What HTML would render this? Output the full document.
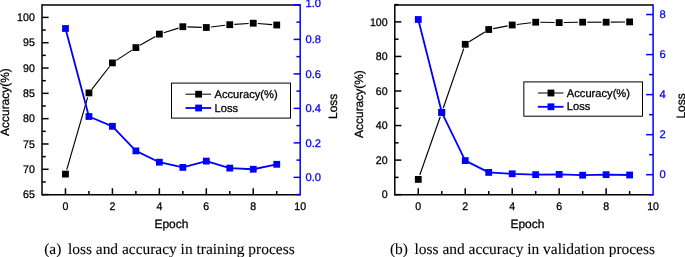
<!DOCTYPE html>
<html><head><meta charset="utf-8"><title>fig</title>
<style>html,body{margin:0;padding:0;background:#fff;}svg{display:block;}text{text-rendering:geometricPrecision;}</style></head>
<body><svg width="685" height="257" viewBox="0 0 685 257">
<defs><filter id="sf" x="-5%" y="-5%" width="110%" height="110%" color-interpolation-filters="sRGB"><feGaussianBlur stdDeviation="0.35"/></filter></defs>
<rect width="685" height="257" fill="#fff"/>
<g filter="url(#sf)">
<line x1="66.75" y1="169.68" x2="87.67" y2="97.32" stroke="#000" stroke-width="1.15" stroke-linecap="butt"/>
<line x1="91.78" y1="89.28" x2="109.58" y2="66.52" stroke="#000" stroke-width="1.15" stroke-linecap="butt"/>
<line x1="116.27" y1="60.39" x2="132.04" y2="50.11" stroke="#000" stroke-width="1.15" stroke-linecap="butt"/>
<line x1="139.88" y1="45.31" x2="155.38" y2="36.39" stroke="#000" stroke-width="1.15" stroke-linecap="butt"/>
<line x1="163.75" y1="32.72" x2="178.45" y2="28.08" stroke="#000" stroke-width="1.15" stroke-linecap="butt"/>
<line x1="187.43" y1="26.86" x2="201.71" y2="27.34" stroke="#000" stroke-width="1.15" stroke-linecap="butt"/>
<line x1="210.88" y1="26.96" x2="225.21" y2="25.24" stroke="#000" stroke-width="1.15" stroke-linecap="butt"/>
<line x1="234.37" y1="24.41" x2="248.66" y2="23.49" stroke="#000" stroke-width="1.15" stroke-linecap="butt"/>
<line x1="257.84" y1="23.55" x2="272.14" y2="24.65" stroke="#000" stroke-width="1.15" stroke-linecap="butt"/>
<polyline fill="none" stroke="#0000ff" stroke-width="1.8" stroke-linejoin="round" points="65.47,28.50 88.95,116.50 112.42,126.30 135.89,150.90 159.36,162.20 182.84,167.40 206.31,161.10 229.78,168.10 253.25,169.25 276.73,164.30"/>
<rect x="62.07" y="170.70" width="6.8" height="6.8" fill="#000"/>
<rect x="85.55" y="89.50" width="6.8" height="6.8" fill="#000"/>
<rect x="109.02" y="59.50" width="6.8" height="6.8" fill="#000"/>
<rect x="132.49" y="44.20" width="6.8" height="6.8" fill="#000"/>
<rect x="155.96" y="30.70" width="6.8" height="6.8" fill="#000"/>
<rect x="179.44" y="23.30" width="6.8" height="6.8" fill="#000"/>
<rect x="202.91" y="24.10" width="6.8" height="6.8" fill="#000"/>
<rect x="226.38" y="21.30" width="6.8" height="6.8" fill="#000"/>
<rect x="249.85" y="19.80" width="6.8" height="6.8" fill="#000"/>
<rect x="273.33" y="21.60" width="6.8" height="6.8" fill="#000"/>
<rect x="62.07" y="25.10" width="6.8" height="6.8" fill="#0000ff"/>
<rect x="85.55" y="113.10" width="6.8" height="6.8" fill="#0000ff"/>
<rect x="109.02" y="122.90" width="6.8" height="6.8" fill="#0000ff"/>
<rect x="132.49" y="147.50" width="6.8" height="6.8" fill="#0000ff"/>
<rect x="155.96" y="158.80" width="6.8" height="6.8" fill="#0000ff"/>
<rect x="179.44" y="164.00" width="6.8" height="6.8" fill="#0000ff"/>
<rect x="202.91" y="157.70" width="6.8" height="6.8" fill="#0000ff"/>
<rect x="226.38" y="164.70" width="6.8" height="6.8" fill="#0000ff"/>
<rect x="249.85" y="165.85" width="6.8" height="6.8" fill="#0000ff"/>
<rect x="273.33" y="160.90" width="6.8" height="6.8" fill="#0000ff"/>
<line x1="42.00" y1="4.15" x2="42.00" y2="195.60" stroke="#000" stroke-width="1.5" stroke-linecap="butt"/>
<line x1="42.00" y1="4.90" x2="300.20" y2="4.90" stroke="#000" stroke-width="1.5" stroke-linecap="butt"/>
<line x1="42.00" y1="194.85" x2="300.20" y2="194.85" stroke="#000" stroke-width="1.5" stroke-linecap="butt"/>
<line x1="42.00" y1="194.60" x2="48.60" y2="194.60" stroke="#000" stroke-width="1.5" stroke-linecap="butt"/>
<line x1="42.00" y1="169.29" x2="48.60" y2="169.29" stroke="#000" stroke-width="1.5" stroke-linecap="butt"/>
<line x1="42.00" y1="143.97" x2="48.60" y2="143.97" stroke="#000" stroke-width="1.5" stroke-linecap="butt"/>
<line x1="42.00" y1="118.66" x2="48.60" y2="118.66" stroke="#000" stroke-width="1.5" stroke-linecap="butt"/>
<line x1="42.00" y1="93.34" x2="48.60" y2="93.34" stroke="#000" stroke-width="1.5" stroke-linecap="butt"/>
<line x1="42.00" y1="68.03" x2="48.60" y2="68.03" stroke="#000" stroke-width="1.5" stroke-linecap="butt"/>
<line x1="42.00" y1="42.71" x2="48.60" y2="42.71" stroke="#000" stroke-width="1.5" stroke-linecap="butt"/>
<line x1="42.00" y1="17.40" x2="48.60" y2="17.40" stroke="#000" stroke-width="1.5" stroke-linecap="butt"/>
<line x1="42.00" y1="181.95" x2="45.80" y2="181.95" stroke="#000" stroke-width="1.5" stroke-linecap="butt"/>
<line x1="42.00" y1="156.63" x2="45.80" y2="156.63" stroke="#000" stroke-width="1.5" stroke-linecap="butt"/>
<line x1="42.00" y1="131.32" x2="45.80" y2="131.32" stroke="#000" stroke-width="1.5" stroke-linecap="butt"/>
<line x1="42.00" y1="106.00" x2="45.80" y2="106.00" stroke="#000" stroke-width="1.5" stroke-linecap="butt"/>
<line x1="42.00" y1="80.69" x2="45.80" y2="80.69" stroke="#000" stroke-width="1.5" stroke-linecap="butt"/>
<line x1="42.00" y1="55.37" x2="45.80" y2="55.37" stroke="#000" stroke-width="1.5" stroke-linecap="butt"/>
<line x1="42.00" y1="30.06" x2="45.80" y2="30.06" stroke="#000" stroke-width="1.5" stroke-linecap="butt"/>
<text x="34.80" y="198.20" font-family="Liberation Sans" font-size="10.6px" text-anchor="end" fill="#000" stroke="#000" stroke-width="0.28" transform="translate(34.80 198.20) scale(1 1.045) translate(-34.80 -198.20)">65</text>
<text x="34.80" y="172.89" font-family="Liberation Sans" font-size="10.6px" text-anchor="end" fill="#000" stroke="#000" stroke-width="0.28" transform="translate(34.80 172.89) scale(1 1.045) translate(-34.80 -172.89)">70</text>
<text x="34.80" y="147.57" font-family="Liberation Sans" font-size="10.6px" text-anchor="end" fill="#000" stroke="#000" stroke-width="0.28" transform="translate(34.80 147.57) scale(1 1.045) translate(-34.80 -147.57)">75</text>
<text x="34.80" y="122.26" font-family="Liberation Sans" font-size="10.6px" text-anchor="end" fill="#000" stroke="#000" stroke-width="0.28" transform="translate(34.80 122.26) scale(1 1.045) translate(-34.80 -122.26)">80</text>
<text x="34.80" y="96.94" font-family="Liberation Sans" font-size="10.6px" text-anchor="end" fill="#000" stroke="#000" stroke-width="0.28" transform="translate(34.80 96.94) scale(1 1.045) translate(-34.80 -96.94)">85</text>
<text x="34.80" y="71.63" font-family="Liberation Sans" font-size="10.6px" text-anchor="end" fill="#000" stroke="#000" stroke-width="0.28" transform="translate(34.80 71.63) scale(1 1.045) translate(-34.80 -71.63)">90</text>
<text x="34.80" y="46.31" font-family="Liberation Sans" font-size="10.6px" text-anchor="end" fill="#000" stroke="#000" stroke-width="0.28" transform="translate(34.80 46.31) scale(1 1.045) translate(-34.80 -46.31)">95</text>
<text x="34.80" y="21.00" font-family="Liberation Sans" font-size="10.6px" text-anchor="end" fill="#000" stroke="#000" stroke-width="0.28" transform="translate(34.80 21.00) scale(1 1.045) translate(-34.80 -21.00)">100</text>
<line x1="65.47" y1="194.85" x2="65.47" y2="188.25" stroke="#000" stroke-width="1.5" stroke-linecap="butt"/>
<text x="65.47" y="210.10" font-family="Liberation Sans" font-size="10.6px" text-anchor="middle" fill="#000" stroke="#000" stroke-width="0.28" transform="translate(65.47 210.10) scale(1 1.045) translate(-65.47 -210.10)">0</text>
<line x1="112.42" y1="194.85" x2="112.42" y2="188.25" stroke="#000" stroke-width="1.5" stroke-linecap="butt"/>
<text x="112.42" y="210.10" font-family="Liberation Sans" font-size="10.6px" text-anchor="middle" fill="#000" stroke="#000" stroke-width="0.28" transform="translate(112.42 210.10) scale(1 1.045) translate(-112.42 -210.10)">2</text>
<line x1="159.36" y1="194.85" x2="159.36" y2="188.25" stroke="#000" stroke-width="1.5" stroke-linecap="butt"/>
<text x="159.36" y="210.10" font-family="Liberation Sans" font-size="10.6px" text-anchor="middle" fill="#000" stroke="#000" stroke-width="0.28" transform="translate(159.36 210.10) scale(1 1.045) translate(-159.36 -210.10)">4</text>
<line x1="206.31" y1="194.85" x2="206.31" y2="188.25" stroke="#000" stroke-width="1.5" stroke-linecap="butt"/>
<text x="206.31" y="210.10" font-family="Liberation Sans" font-size="10.6px" text-anchor="middle" fill="#000" stroke="#000" stroke-width="0.28" transform="translate(206.31 210.10) scale(1 1.045) translate(-206.31 -210.10)">6</text>
<line x1="253.25" y1="194.85" x2="253.25" y2="188.25" stroke="#000" stroke-width="1.5" stroke-linecap="butt"/>
<text x="253.25" y="210.10" font-family="Liberation Sans" font-size="10.6px" text-anchor="middle" fill="#000" stroke="#000" stroke-width="0.28" transform="translate(253.25 210.10) scale(1 1.045) translate(-253.25 -210.10)">8</text>
<text x="300.20" y="210.10" font-family="Liberation Sans" font-size="10.6px" text-anchor="middle" fill="#000" stroke="#000" stroke-width="0.28" transform="translate(300.20 210.10) scale(1 1.045) translate(-300.20 -210.10)">10</text>
<line x1="88.95" y1="194.85" x2="88.95" y2="191.05" stroke="#000" stroke-width="1.5" stroke-linecap="butt"/>
<line x1="135.89" y1="194.85" x2="135.89" y2="191.05" stroke="#000" stroke-width="1.5" stroke-linecap="butt"/>
<line x1="182.84" y1="194.85" x2="182.84" y2="191.05" stroke="#000" stroke-width="1.5" stroke-linecap="butt"/>
<line x1="229.78" y1="194.85" x2="229.78" y2="191.05" stroke="#000" stroke-width="1.5" stroke-linecap="butt"/>
<line x1="276.73" y1="194.85" x2="276.73" y2="191.05" stroke="#000" stroke-width="1.5" stroke-linecap="butt"/>
<line x1="300.20" y1="4.15" x2="300.20" y2="195.60" stroke="#0000ff" stroke-width="1.5" stroke-linecap="butt"/>
<line x1="300.20" y1="177.35" x2="293.60" y2="177.35" stroke="#0000ff" stroke-width="1.5" stroke-linecap="butt"/>
<line x1="300.20" y1="142.86" x2="293.60" y2="142.86" stroke="#0000ff" stroke-width="1.5" stroke-linecap="butt"/>
<line x1="300.20" y1="108.37" x2="293.60" y2="108.37" stroke="#0000ff" stroke-width="1.5" stroke-linecap="butt"/>
<line x1="300.20" y1="73.88" x2="293.60" y2="73.88" stroke="#0000ff" stroke-width="1.5" stroke-linecap="butt"/>
<line x1="300.20" y1="39.39" x2="293.60" y2="39.39" stroke="#0000ff" stroke-width="1.5" stroke-linecap="butt"/>
<line x1="300.20" y1="4.90" x2="293.60" y2="4.90" stroke="#0000ff" stroke-width="1.5" stroke-linecap="butt"/>
<line x1="300.20" y1="194.59" x2="296.40" y2="194.59" stroke="#0000ff" stroke-width="1.5" stroke-linecap="butt"/>
<line x1="300.20" y1="160.10" x2="296.40" y2="160.10" stroke="#0000ff" stroke-width="1.5" stroke-linecap="butt"/>
<line x1="300.20" y1="125.61" x2="296.40" y2="125.61" stroke="#0000ff" stroke-width="1.5" stroke-linecap="butt"/>
<line x1="300.20" y1="91.12" x2="296.40" y2="91.12" stroke="#0000ff" stroke-width="1.5" stroke-linecap="butt"/>
<line x1="300.20" y1="56.64" x2="296.40" y2="56.64" stroke="#0000ff" stroke-width="1.5" stroke-linecap="butt"/>
<line x1="300.20" y1="22.14" x2="296.40" y2="22.14" stroke="#0000ff" stroke-width="1.5" stroke-linecap="butt"/>
<text x="305.45" y="181.00" font-family="Liberation Sans" font-size="11.2px" text-anchor="start" fill="#0000ff" stroke="#0000ff" stroke-width="0.28">0.0</text>
<text x="305.45" y="146.51" font-family="Liberation Sans" font-size="11.2px" text-anchor="start" fill="#0000ff" stroke="#0000ff" stroke-width="0.28">0.2</text>
<text x="305.45" y="112.02" font-family="Liberation Sans" font-size="11.2px" text-anchor="start" fill="#0000ff" stroke="#0000ff" stroke-width="0.28">0.4</text>
<text x="305.45" y="77.53" font-family="Liberation Sans" font-size="11.2px" text-anchor="start" fill="#0000ff" stroke="#0000ff" stroke-width="0.28">0.6</text>
<text x="305.45" y="43.04" font-family="Liberation Sans" font-size="11.2px" text-anchor="start" fill="#0000ff" stroke="#0000ff" stroke-width="0.28">0.8</text>
<text x="305.45" y="7.40" font-family="Liberation Sans" font-size="11.2px" text-anchor="start" fill="#0000ff" stroke="#0000ff" stroke-width="0.28">1.0</text>
<rect x="171.50" y="83.10" width="119.00" height="35.00" fill="#fff" stroke="#000" stroke-width="1"/>
<line x1="185.50" y1="94.20" x2="211.20" y2="94.20" stroke="#000" stroke-width="1.0" stroke-linecap="butt"/>
<rect x="195.20" y="90.80" width="6.8" height="6.8" fill="#000"/>
<line x1="185.50" y1="108.00" x2="211.20" y2="108.00" stroke="#0000ff" stroke-width="1.8" stroke-linecap="butt"/>
<rect x="195.20" y="104.60" width="6.8" height="6.8" fill="#0000ff"/>
<text x="214.50" y="98.00" font-family="Liberation Sans" font-size="11.15px" text-anchor="start" fill="#000" stroke="#000" stroke-width="0.28">Accuracy(%)</text>
<text x="214.50" y="111.50" font-family="Liberation Sans" font-size="11.15px" text-anchor="start" fill="#000" stroke="#000" stroke-width="0.28">Loss</text>
<text x="8.80" y="135.90" font-family="Liberation Sans" font-size="11.95px" text-anchor="start" fill="#000" stroke="#000" stroke-width="0.28" transform="rotate(-90 8.80 135.90)">Accuracy(%)</text>
<text x="171.40" y="227.50" font-family="Liberation Sans" font-size="12.0px" text-anchor="middle" fill="#000" stroke="#000" stroke-width="0.28">Epoch</text>
<text x="337.30" y="119.00" font-family="Liberation Sans" font-size="12.0px" text-anchor="start" fill="#000" stroke="#000" stroke-width="0.28" transform="rotate(-90 337.30 119.00)">Loss</text>
<line x1="419.80" y1="175.06" x2="440.24" y2="116.74" stroke="#000" stroke-width="1.15" stroke-linecap="butt"/>
<line x1="443.26" y1="108.05" x2="463.75" y2="48.65" stroke="#000" stroke-width="1.15" stroke-linecap="butt"/>
<line x1="469.14" y1="41.85" x2="484.84" y2="31.95" stroke="#000" stroke-width="1.15" stroke-linecap="butt"/>
<line x1="493.25" y1="28.63" x2="507.69" y2="25.87" stroke="#000" stroke-width="1.15" stroke-linecap="butt"/>
<line x1="516.78" y1="24.46" x2="531.12" y2="22.74" stroke="#000" stroke-width="1.15" stroke-linecap="butt"/>
<line x1="540.29" y1="22.28" x2="554.57" y2="22.52" stroke="#000" stroke-width="1.15" stroke-linecap="butt"/>
<line x1="563.77" y1="22.52" x2="578.06" y2="22.28" stroke="#000" stroke-width="1.15" stroke-linecap="butt"/>
<line x1="587.25" y1="22.20" x2="601.54" y2="22.20" stroke="#000" stroke-width="1.15" stroke-linecap="butt"/>
<line x1="610.74" y1="22.14" x2="625.02" y2="21.96" stroke="#000" stroke-width="1.15" stroke-linecap="butt"/>
<polyline fill="none" stroke="#0000ff" stroke-width="1.8" stroke-linejoin="round" points="418.28,19.50 441.76,112.30 465.25,160.60 488.73,172.40 512.21,173.80 535.69,174.66 559.17,174.40 582.65,175.20 606.14,174.66 629.62,175.00"/>
<rect x="414.88" y="176.00" width="6.8" height="6.8" fill="#000"/>
<rect x="438.36" y="109.00" width="6.8" height="6.8" fill="#000"/>
<rect x="461.85" y="40.90" width="6.8" height="6.8" fill="#000"/>
<rect x="485.33" y="26.10" width="6.8" height="6.8" fill="#000"/>
<rect x="508.81" y="21.60" width="6.8" height="6.8" fill="#000"/>
<rect x="532.29" y="18.80" width="6.8" height="6.8" fill="#000"/>
<rect x="555.77" y="19.20" width="6.8" height="6.8" fill="#000"/>
<rect x="579.25" y="18.80" width="6.8" height="6.8" fill="#000"/>
<rect x="602.74" y="18.80" width="6.8" height="6.8" fill="#000"/>
<rect x="626.22" y="18.50" width="6.8" height="6.8" fill="#000"/>
<rect x="414.88" y="16.10" width="6.8" height="6.8" fill="#0000ff"/>
<rect x="438.36" y="108.90" width="6.8" height="6.8" fill="#0000ff"/>
<rect x="461.85" y="157.20" width="6.8" height="6.8" fill="#0000ff"/>
<rect x="485.33" y="169.00" width="6.8" height="6.8" fill="#0000ff"/>
<rect x="508.81" y="170.40" width="6.8" height="6.8" fill="#0000ff"/>
<rect x="532.29" y="171.26" width="6.8" height="6.8" fill="#0000ff"/>
<rect x="555.77" y="171.00" width="6.8" height="6.8" fill="#0000ff"/>
<rect x="579.25" y="171.80" width="6.8" height="6.8" fill="#0000ff"/>
<rect x="602.74" y="171.26" width="6.8" height="6.8" fill="#0000ff"/>
<rect x="626.22" y="171.60" width="6.8" height="6.8" fill="#0000ff"/>
<line x1="394.80" y1="4.15" x2="394.80" y2="195.60" stroke="#000" stroke-width="1.5" stroke-linecap="butt"/>
<line x1="394.80" y1="4.90" x2="653.10" y2="4.90" stroke="#000" stroke-width="1.5" stroke-linecap="butt"/>
<line x1="394.80" y1="194.85" x2="653.10" y2="194.85" stroke="#000" stroke-width="1.5" stroke-linecap="butt"/>
<line x1="394.80" y1="194.65" x2="401.40" y2="194.65" stroke="#000" stroke-width="1.5" stroke-linecap="butt"/>
<line x1="394.80" y1="160.10" x2="401.40" y2="160.10" stroke="#000" stroke-width="1.5" stroke-linecap="butt"/>
<line x1="394.80" y1="125.55" x2="401.40" y2="125.55" stroke="#000" stroke-width="1.5" stroke-linecap="butt"/>
<line x1="394.80" y1="91.00" x2="401.40" y2="91.00" stroke="#000" stroke-width="1.5" stroke-linecap="butt"/>
<line x1="394.80" y1="56.45" x2="401.40" y2="56.45" stroke="#000" stroke-width="1.5" stroke-linecap="butt"/>
<line x1="394.80" y1="21.90" x2="401.40" y2="21.90" stroke="#000" stroke-width="1.5" stroke-linecap="butt"/>
<line x1="394.80" y1="177.38" x2="398.60" y2="177.38" stroke="#000" stroke-width="1.5" stroke-linecap="butt"/>
<line x1="394.80" y1="142.82" x2="398.60" y2="142.82" stroke="#000" stroke-width="1.5" stroke-linecap="butt"/>
<line x1="394.80" y1="108.28" x2="398.60" y2="108.28" stroke="#000" stroke-width="1.5" stroke-linecap="butt"/>
<line x1="394.80" y1="73.73" x2="398.60" y2="73.73" stroke="#000" stroke-width="1.5" stroke-linecap="butt"/>
<line x1="394.80" y1="39.18" x2="398.60" y2="39.18" stroke="#000" stroke-width="1.5" stroke-linecap="butt"/>
<line x1="394.80" y1="4.62" x2="398.60" y2="4.62" stroke="#000" stroke-width="1.5" stroke-linecap="butt"/>
<text x="387.60" y="198.25" font-family="Liberation Sans" font-size="10.6px" text-anchor="end" fill="#000" stroke="#000" stroke-width="0.28" transform="translate(387.60 198.25) scale(1 1.045) translate(-387.60 -198.25)">0</text>
<text x="387.60" y="163.70" font-family="Liberation Sans" font-size="10.6px" text-anchor="end" fill="#000" stroke="#000" stroke-width="0.28" transform="translate(387.60 163.70) scale(1 1.045) translate(-387.60 -163.70)">20</text>
<text x="387.60" y="129.15" font-family="Liberation Sans" font-size="10.6px" text-anchor="end" fill="#000" stroke="#000" stroke-width="0.28" transform="translate(387.60 129.15) scale(1 1.045) translate(-387.60 -129.15)">40</text>
<text x="387.60" y="94.60" font-family="Liberation Sans" font-size="10.6px" text-anchor="end" fill="#000" stroke="#000" stroke-width="0.28" transform="translate(387.60 94.60) scale(1 1.045) translate(-387.60 -94.60)">60</text>
<text x="387.60" y="60.05" font-family="Liberation Sans" font-size="10.6px" text-anchor="end" fill="#000" stroke="#000" stroke-width="0.28" transform="translate(387.60 60.05) scale(1 1.045) translate(-387.60 -60.05)">80</text>
<text x="387.60" y="25.50" font-family="Liberation Sans" font-size="10.6px" text-anchor="end" fill="#000" stroke="#000" stroke-width="0.28" transform="translate(387.60 25.50) scale(1 1.045) translate(-387.60 -25.50)">100</text>
<line x1="418.28" y1="194.85" x2="418.28" y2="188.25" stroke="#000" stroke-width="1.5" stroke-linecap="butt"/>
<text x="418.28" y="210.10" font-family="Liberation Sans" font-size="10.6px" text-anchor="middle" fill="#000" stroke="#000" stroke-width="0.28" transform="translate(418.28 210.10) scale(1 1.045) translate(-418.28 -210.10)">0</text>
<line x1="465.25" y1="194.85" x2="465.25" y2="188.25" stroke="#000" stroke-width="1.5" stroke-linecap="butt"/>
<text x="465.25" y="210.10" font-family="Liberation Sans" font-size="10.6px" text-anchor="middle" fill="#000" stroke="#000" stroke-width="0.28" transform="translate(465.25 210.10) scale(1 1.045) translate(-465.25 -210.10)">2</text>
<line x1="512.21" y1="194.85" x2="512.21" y2="188.25" stroke="#000" stroke-width="1.5" stroke-linecap="butt"/>
<text x="512.21" y="210.10" font-family="Liberation Sans" font-size="10.6px" text-anchor="middle" fill="#000" stroke="#000" stroke-width="0.28" transform="translate(512.21 210.10) scale(1 1.045) translate(-512.21 -210.10)">4</text>
<line x1="559.17" y1="194.85" x2="559.17" y2="188.25" stroke="#000" stroke-width="1.5" stroke-linecap="butt"/>
<text x="559.17" y="210.10" font-family="Liberation Sans" font-size="10.6px" text-anchor="middle" fill="#000" stroke="#000" stroke-width="0.28" transform="translate(559.17 210.10) scale(1 1.045) translate(-559.17 -210.10)">6</text>
<line x1="606.14" y1="194.85" x2="606.14" y2="188.25" stroke="#000" stroke-width="1.5" stroke-linecap="butt"/>
<text x="606.14" y="210.10" font-family="Liberation Sans" font-size="10.6px" text-anchor="middle" fill="#000" stroke="#000" stroke-width="0.28" transform="translate(606.14 210.10) scale(1 1.045) translate(-606.14 -210.10)">8</text>
<text x="653.10" y="210.10" font-family="Liberation Sans" font-size="10.6px" text-anchor="middle" fill="#000" stroke="#000" stroke-width="0.28" transform="translate(653.10 210.10) scale(1 1.045) translate(-653.10 -210.10)">10</text>
<line x1="441.76" y1="194.85" x2="441.76" y2="191.05" stroke="#000" stroke-width="1.5" stroke-linecap="butt"/>
<line x1="488.73" y1="194.85" x2="488.73" y2="191.05" stroke="#000" stroke-width="1.5" stroke-linecap="butt"/>
<line x1="535.69" y1="194.85" x2="535.69" y2="191.05" stroke="#000" stroke-width="1.5" stroke-linecap="butt"/>
<line x1="582.65" y1="194.85" x2="582.65" y2="191.05" stroke="#000" stroke-width="1.5" stroke-linecap="butt"/>
<line x1="629.62" y1="194.85" x2="629.62" y2="191.05" stroke="#000" stroke-width="1.5" stroke-linecap="butt"/>
<line x1="653.10" y1="4.15" x2="653.10" y2="195.60" stroke="#0000ff" stroke-width="1.5" stroke-linecap="butt"/>
<line x1="653.10" y1="174.70" x2="646.10" y2="174.70" stroke="#0000ff" stroke-width="1.5" stroke-linecap="butt"/>
<line x1="653.10" y1="134.66" x2="646.10" y2="134.66" stroke="#0000ff" stroke-width="1.5" stroke-linecap="butt"/>
<line x1="653.10" y1="94.62" x2="646.10" y2="94.62" stroke="#0000ff" stroke-width="1.5" stroke-linecap="butt"/>
<line x1="653.10" y1="54.58" x2="646.10" y2="54.58" stroke="#0000ff" stroke-width="1.5" stroke-linecap="butt"/>
<line x1="653.10" y1="14.54" x2="646.10" y2="14.54" stroke="#0000ff" stroke-width="1.5" stroke-linecap="butt"/>
<line x1="653.10" y1="194.72" x2="649.10" y2="194.72" stroke="#0000ff" stroke-width="1.5" stroke-linecap="butt"/>
<line x1="653.10" y1="154.68" x2="649.10" y2="154.68" stroke="#0000ff" stroke-width="1.5" stroke-linecap="butt"/>
<line x1="653.10" y1="114.64" x2="649.10" y2="114.64" stroke="#0000ff" stroke-width="1.5" stroke-linecap="butt"/>
<line x1="653.10" y1="74.60" x2="649.10" y2="74.60" stroke="#0000ff" stroke-width="1.5" stroke-linecap="butt"/>
<line x1="653.10" y1="34.56" x2="649.10" y2="34.56" stroke="#0000ff" stroke-width="1.5" stroke-linecap="butt"/>
<text x="659.55" y="178.35" font-family="Liberation Sans" font-size="11.2px" text-anchor="start" fill="#0000ff" stroke="#0000ff" stroke-width="0.28">0</text>
<text x="659.55" y="138.31" font-family="Liberation Sans" font-size="11.2px" text-anchor="start" fill="#0000ff" stroke="#0000ff" stroke-width="0.28">2</text>
<text x="659.55" y="98.27" font-family="Liberation Sans" font-size="11.2px" text-anchor="start" fill="#0000ff" stroke="#0000ff" stroke-width="0.28">4</text>
<text x="659.55" y="58.23" font-family="Liberation Sans" font-size="11.2px" text-anchor="start" fill="#0000ff" stroke="#0000ff" stroke-width="0.28">6</text>
<text x="659.55" y="18.19" font-family="Liberation Sans" font-size="11.2px" text-anchor="start" fill="#0000ff" stroke="#0000ff" stroke-width="0.28">8</text>
<rect x="523.85" y="81.90" width="118.65" height="34.30" fill="#fff" stroke="#000" stroke-width="1"/>
<line x1="537.85" y1="93.00" x2="563.55" y2="93.00" stroke="#000" stroke-width="1.0" stroke-linecap="butt"/>
<rect x="547.55" y="89.60" width="6.8" height="6.8" fill="#000"/>
<line x1="537.85" y1="106.80" x2="563.55" y2="106.80" stroke="#0000ff" stroke-width="1.8" stroke-linecap="butt"/>
<rect x="547.55" y="103.40" width="6.8" height="6.8" fill="#0000ff"/>
<text x="566.85" y="96.80" font-family="Liberation Sans" font-size="11.15px" text-anchor="start" fill="#000" stroke="#000" stroke-width="0.28">Accuracy(%)</text>
<text x="566.85" y="110.30" font-family="Liberation Sans" font-size="11.15px" text-anchor="start" fill="#000" stroke="#000" stroke-width="0.28">Loss</text>
<text x="363.50" y="137.90" font-family="Liberation Sans" font-size="11.95px" text-anchor="start" fill="#000" stroke="#000" stroke-width="0.28" transform="rotate(-90 363.50 137.90)">Accuracy(%)</text>
<text x="527.40" y="227.50" font-family="Liberation Sans" font-size="12.0px" text-anchor="middle" fill="#000" stroke="#000" stroke-width="0.28">Epoch</text>
<text x="684.70" y="118.60" font-family="Liberation Sans" font-size="12.0px" text-anchor="start" fill="#000" stroke="#000" stroke-width="0.28" transform="rotate(-90 684.70 118.60)">Loss</text>
<text x="44.20" y="253.60" font-family="Liberation Serif" font-size="15.45px" text-anchor="start" fill="#000" stroke="#000" stroke-width="0.1">(a)</text>
<text x="67.90" y="253.60" font-family="Liberation Serif" font-size="15.45px" text-anchor="start" fill="#000" stroke="#000" stroke-width="0.1">loss and accuracy in training process</text>
<text x="389.90" y="253.60" font-family="Liberation Serif" font-size="15.45px" text-anchor="start" fill="#000" stroke="#000" stroke-width="0.1">(b)</text>
<text x="414.50" y="253.60" font-family="Liberation Serif" font-size="15.45px" text-anchor="start" fill="#000" stroke="#000" stroke-width="0.1">loss and accuracy in validation process</text>
</g>
</svg></body></html>
